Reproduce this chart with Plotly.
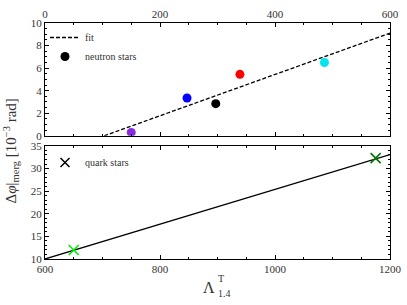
import plotly.graph_objects as go

# neutron stars (top panel)
ns_lambda = [150, 247, 297, 339, 486]
ns_dphi = [0.3, 3.35, 2.85, 5.45, 6.5]
ns_colors = ["#8a2be2", "#0000ff", "#000000", "#ff0000", "#00e5ee"]
fit_lambda = [103, 600]
fit_dphi = [0.0, 9.1]

# quark stars (bottom panel)
qs_lambda = [650, 1175]
qs_dphi = [12.0, 32.3]
qs_colors = ["#00ee00", "#007700"]
qfit_lambda = [600, 1200]
qfit_dphi = [10.0, 33.1]

FONT = "Liberation Serif"

fig = go.Figure()

fig.add_trace(go.Scatter(x=fit_lambda, y=fit_dphi, mode="lines", name="fit",
                         line=dict(color="black", dash="4px,2px", width=1.3),
                         xaxis="x2", yaxis="y2", legend="legend"))
fig.add_trace(go.Scatter(x=[None], y=[None], mode="markers", name="neutron stars",
                         marker=dict(color="black", size=9),
                         xaxis="x2", yaxis="y2", legend="legend"))
fig.add_trace(go.Scatter(x=ns_lambda, y=ns_dphi, mode="markers", showlegend=False,
                         marker=dict(color=ns_colors, size=9),
                         xaxis="x2", yaxis="y2"))

fig.add_trace(go.Scatter(x=qfit_lambda, y=qfit_dphi, mode="lines", showlegend=False,
                         line=dict(color="black", width=1.3),
                         xaxis="x", yaxis="y"))
fig.add_trace(go.Scatter(x=[None], y=[None], mode="markers", name="quark stars",
                         marker=dict(symbol="x-thin", size=9, line=dict(color="black", width=1.5)),
                         xaxis="x", yaxis="y", legend="legend2"))
fig.add_trace(go.Scatter(x=qs_lambda, y=qs_dphi, mode="markers", showlegend=False,
                         marker=dict(symbol="x-thin", size=10, color=qs_colors,
                                     line=dict(color=qs_colors, width=1.6)),
                         xaxis="x", yaxis="y"))

axis_common = dict(showline=True, linecolor="black", linewidth=1, mirror="allticks",
                   ticks="inside", ticklen=4, tickcolor="black", showgrid=False,
                   zeroline=False, automargin=False,
                   tickfont=dict(family=FONT, size=11, color="#333"))

TXT = dict(family=FONT, color="#333")

fig.update_layout(
    width=407, height=305,
    margin=dict(l=45, r=17, t=23, b=46, autoexpand=False),
    paper_bgcolor="white", plot_bgcolor="white",
    font=dict(family=FONT, size=11, color="black"),
    xaxis=dict(range=[600, 1200], dtick=200, anchor="y", domain=[0, 1],
               minor=dict(dtick=50, ticks="inside", ticklen=2, tickcolor="black"),
               **axis_common),
    yaxis=dict(range=[10, 35], dtick=5, domain=[0, 0.479], anchor="x",
               minor=dict(dtick=1, ticks="inside", ticklen=2, tickcolor="black"),
               **axis_common),
    xaxis2=dict(range=[0, 600], dtick=200, anchor="y2", side="top", domain=[0, 1],
                minor=dict(dtick=50, ticks="inside", ticklen=2, tickcolor="black"),
                **axis_common),
    yaxis2=dict(range=[0, 10], dtick=2, domain=[0.522, 1], anchor="x2",
                minor=dict(dtick=0.5, ticks="inside", ticklen=2, tickcolor="black"),
                **axis_common),
    legend=dict(x=0.0, y=1.0, xanchor="left", yanchor="top", bgcolor="rgba(0,0,0,0)",
                font=dict(size=10, **TXT), tracegroupgap=0, itemwidth=30),
    legend2=dict(x=0.0, y=0.47, xanchor="left", yanchor="top", bgcolor="rgba(0,0,0,0)",
                 font=dict(size=10, **TXT), itemwidth=30),
    annotations=[
        dict(text="Δ<i>φ</i>|<sub>merg</sub> [10<sup>−3</sup> rad]", textangle=-90,
             x=-0.1, xref="paper", xanchor="center", y=0.458, yref="paper",
             yanchor="middle", showarrow=False, font=dict(size=15, **TXT)),
        dict(text="Λ", x=0.475, xref="paper", y=-0.119, yref="paper", xanchor="center",
             yanchor="middle", showarrow=False, font=dict(size=16, **TXT)),
        dict(text="T", x=0.497, xref="paper", y=-0.083, yref="paper", xanchor="left",
             yanchor="middle", showarrow=False, font=dict(size=10, **TXT)),
        dict(text="1.4", x=0.497, xref="paper", y=-0.147, yref="paper", xanchor="left",
             yanchor="middle", showarrow=False, font=dict(size=10, **TXT)),
    ],
)
fig.write_html("out.html", config={"displayModeBar": False},
               post_script="document.body.style.margin='0';")
